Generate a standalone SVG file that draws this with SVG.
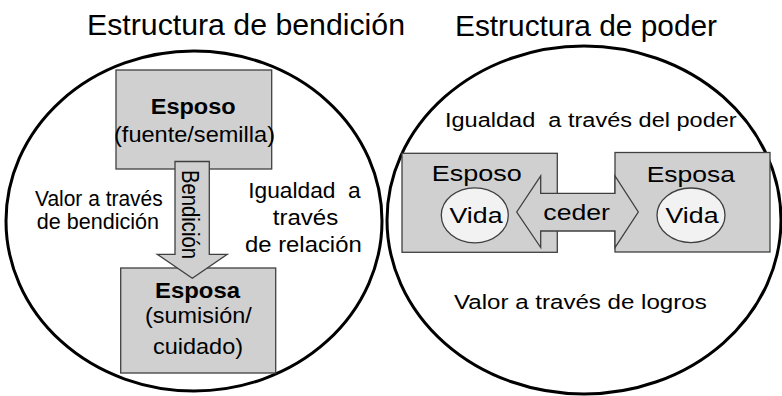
<svg xmlns="http://www.w3.org/2000/svg" width="782" height="396" viewBox="0 0 782 396">
<style>
text{font-family:"Liberation Sans",Arial,sans-serif;fill:#000;}
.title{font-size:30px;}
.t{font-size:21.5px;}
.b{font-size:22px;font-weight:bold;}
.r{font-size:22.5px;}
.ring{fill:#fff;stroke:#000;stroke-width:3;}
.box{fill:#d0d0d0;stroke:#3f3f3f;stroke-width:1.3;}
.life{fill:#f2f2f2;stroke:#3f3f3f;stroke-width:1.3;}
.arrow{fill:#d0d0d0;stroke:#3f3f3f;stroke-width:1.3;stroke-linejoin:miter;}
</style>
<rect width="782" height="396" fill="#fff"/>

<g id="blessing-structure">
  <text class="title" x="87" y="35" textLength="318" lengthAdjust="spacingAndGlyphs">Estructura de bendición</text>
  <ellipse class="ring" cx="194" cy="221" rx="188" ry="170"/>
  <text class="t" x="35" y="206" textLength="127.7" lengthAdjust="spacingAndGlyphs">Valor a través</text>
  <text class="t" x="36.7" y="229" textLength="122.3" lengthAdjust="spacingAndGlyphs">de bendición</text>
  <text class="t" x="248.3" y="198.3" textLength="112.4" lengthAdjust="spacingAndGlyphs" xml:space="preserve">Igualdad  a</text>
  <text class="t" x="272.7" y="225" textLength="65.6" lengthAdjust="spacingAndGlyphs">través</text>
  <text class="t" x="245" y="251.7" textLength="116.7" lengthAdjust="spacingAndGlyphs">de relación</text>
</g>

<g id="power-structure">
  <text class="title" x="455" y="36" textLength="262" lengthAdjust="spacingAndGlyphs">Estructura de poder</text>
  <ellipse class="ring" cx="584" cy="220" rx="197" ry="174"/>
  <text class="r" style="font-size:19.5px" x="445" y="127.3" textLength="291.7" lengthAdjust="spacingAndGlyphs" xml:space="preserve">Igualdad  a través del poder</text>
  <text class="r" style="font-size:20.5px" x="454" y="309.3" textLength="252.7" lengthAdjust="spacingAndGlyphs">Valor a través de logros</text>
</g>

<g id="node-esposo-blessing">
  <rect class="box" x="116" y="70" width="155.7" height="99"/>
  <text class="b" x="150.7" y="114" textLength="85" lengthAdjust="spacingAndGlyphs">Esposo</text>
  <text class="t" x="114" y="141.5" textLength="161" lengthAdjust="spacingAndGlyphs">(fuente/semilla)</text>
</g>

<g id="node-esposa-blessing">
  <rect class="box" x="120.7" y="268" width="155" height="105"/>
  <text class="b" x="155" y="298.3" textLength="85" lengthAdjust="spacingAndGlyphs">Esposa</text>
  <text class="t" x="145" y="323" textLength="106.7" lengthAdjust="spacingAndGlyphs">(sumisión/</text>
  <text class="t" x="153" y="354.3" textLength="90" lengthAdjust="spacingAndGlyphs">cuidado)</text>
</g>

<g id="node-esposo-power">
  <rect class="box" x="402" y="153.3" width="155.3" height="99"/>
  <text class="r" x="431.7" y="181.3" textLength="90" lengthAdjust="spacingAndGlyphs">Esposo</text>
  <ellipse class="life" cx="474.8" cy="215.3" rx="33.5" ry="27.5"/>
  <text class="r" x="449.5" y="223" textLength="53" lengthAdjust="spacingAndGlyphs">Vida</text>
</g>

<g id="node-esposa-power">
  <rect class="box" x="615" y="152.5" width="155" height="99.5"/>
  <text class="r" x="646.7" y="182" textLength="88.3" lengthAdjust="spacingAndGlyphs">Esposa</text>
  <ellipse class="life" cx="691" cy="215.3" rx="34" ry="27.3"/>
  <text class="r" x="665.5" y="223" textLength="53" lengthAdjust="spacingAndGlyphs">Vida</text>
</g>

<g id="connectors">
  <g id="edge-bendicion">
    <polygon class="arrow" points="175,161.5 209.3,161.5 209.3,254.3 227.3,254.3 192.3,278.3 157.3,254.3 175,254.3"/>
    <text class="t" style="font-size:20px" transform="translate(182,170) scale(1.15,1) rotate(90)" x="0" y="0" textLength="89" lengthAdjust="spacingAndGlyphs">Bendición</text>
  </g>
  <g id="edge-ceder">
    <polygon class="arrow" points="516.7,212 540.7,176 540.7,193.3 615,193.3 615,176 638.3,212 615,247.5 615,231 540.7,231 540.7,247.5"/>
    <text class="r" x="543.3" y="220" textLength="66.7" lengthAdjust="spacingAndGlyphs">ceder</text>
  </g>
</g>
</svg>
